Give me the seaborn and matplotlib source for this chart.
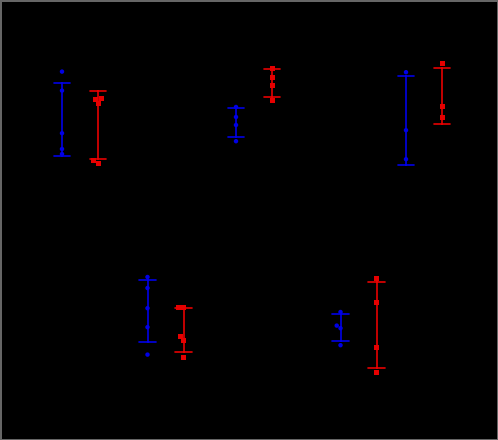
import pandas as pd
import numpy as np
import matplotlib.pyplot as plt
import seaborn as sns

sns.set_theme(style="dark")

# values per group (arbitrary units)
groups = ["G1", "G2", "G3", "G4", "G5"]
conditions = ["Control", "Treated"]
control = [
    [6.42, 5.47, 3.34, 2.55, 2.30],
    [4.65, 4.15, 3.75, 2.94],
    [6.39, 3.49, 2.04],
    [6.65, 6.10, 5.09, 4.14, 2.77],
    [4.90, 4.22, 4.09, 3.24],
]
treated = [
    [5.07, 5.05, 4.82, 1.85, 1.97],
    [6.60, 6.14, 5.70, 4.99],
    [6.80, 4.69, 4.12],
    [5.15, 5.12, 3.67, 3.47, 2.65],
    [6.59, 5.40, 3.12, 1.89],
]
colors = {"Control": "#0000e6", "Treated": "#e60000"}

rows = []
for g, c_vals, t_vals in zip(groups, control, treated):
    rows += [(g, "Control", v) for v in c_vals]
    rows += [(g, "Treated", v) for v in t_vals]
df = pd.DataFrame(rows, columns=["group", "condition", "value"])

# panel layout (pixels): centre x and bottom y
W, H = 498, 440
centres = [(80, 200), (254, 200), (424, 200), (165.5, 410), (358.5, 410)]
pw, ph = 90, 160

fig = plt.figure(figsize=(W / 100, H / 100), dpi=100, facecolor="black",
                 edgecolor="#666666", linewidth=2)

for g, (cx, by) in zip(groups, centres):
    ax = fig.add_axes([(cx - pw / 2) / W, (H - by) / H, pw / W, ph / H])
    ax.set_facecolor("black")
    sub = df[df["group"] == g]
    sns.pointplot(data=sub, x="group", y="value", hue="condition",
                  hue_order=conditions, palette=colors, errorbar="sd",
                  capsize=0.18, dodge=0.4, linestyle="none", markers="o",
                  markersize=2.5, err_kws={"linewidth": 1.2}, legend=False, ax=ax)
    for line in ax.lines:
        if line.get_marker() not in (None, "None", ""):
            line.set_markerfacecolor("black")
            line.set_markeredgecolor("black")
    sns.swarmplot(data=sub[sub["condition"] == "Control"], x="group", y="value",
                  hue="condition", hue_order=conditions, palette=colors,
                  dodge=True, marker="o", size=3.2, linewidth=0, legend=False, ax=ax)
    sns.swarmplot(data=sub[sub["condition"] == "Treated"], x="group", y="value",
                  hue="condition", hue_order=conditions, palette=colors,
                  dodge=True, marker="s", size=3.6, linewidth=0, legend=False, ax=ax)
    ax.set_xlim(-0.5, 0.5)
    ax.set_ylim(0, 8)
    ax.set_axis_off()

fig.savefig("out.png", dpi=100, facecolor="black", edgecolor="#666666")
